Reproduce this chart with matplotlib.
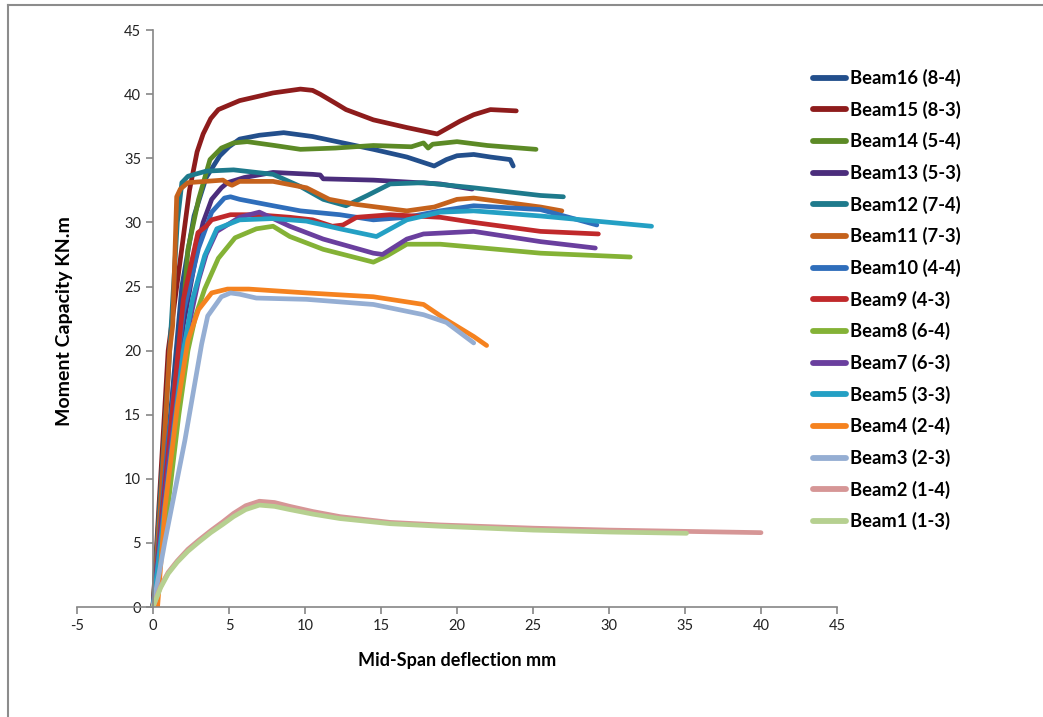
import matplotlib.pyplot as plt
from matplotlib.lines import Line2D

# values (x = deflection mm, y = moment kN.m)
b16_x = [0, 1.0, 1.9, 2.7, 3.5, 4.4, 5.0, 5.7, 7.0, 8.6, 10.5, 12.5, 14.5, 16.7, 18.5, 19.3, 20.0, 21.1, 22.2, 23.5, 23.7]
b16_y = [0, 13, 25, 30.5, 33.5, 35.2, 35.9, 36.5, 36.8, 37.0, 36.7, 36.2, 35.7, 35.1, 34.4, 34.9, 35.2, 35.3, 35.1, 34.9, 34.4]

b15_x = [0, 1.0, 1.9, 2.4, 2.9, 3.3, 3.8, 4.3, 5.7, 7.9, 9.7, 10.5, 11.0, 12.0, 12.7, 14.5, 16.7, 18.7, 19.3, 20.2, 21.1, 22.2, 23.9]
b15_y = [0, 20, 28, 32.5, 35.5, 36.9, 38.1, 38.8, 39.5, 40.1, 40.4, 40.3, 40.0, 39.3, 38.8, 38.0, 37.4, 36.9, 37.3, 37.9, 38.4, 38.8, 38.7]

b14_x = [0, 1.0, 1.8, 2.3, 3.0, 3.75, 4.5, 5.3, 6.2, 8.0, 9.7, 12.0, 14.5, 17.0, 17.8, 18.1, 18.4, 20.0, 22.0, 25.2]
b14_y = [0, 10, 20, 27.9, 31.8, 34.9, 35.8, 36.2, 36.3, 36.0, 35.7, 35.8, 36.0, 35.9, 36.2, 35.8, 36.1, 36.3, 36.0, 35.7]

b13_x = [0, 1.0, 2.0, 3.0, 3.3, 3.86, 4.5, 4.9, 6.0, 7.9, 10.5, 11.0, 11.2, 14.5, 16.0, 18.9, 21.0]
b13_y = [0, 12, 22, 28.5, 30.0, 31.8, 32.7, 33.1, 33.5, 33.9, 33.75, 33.7, 33.4, 33.3, 33.2, 33.0, 32.6]

b12_x = [0, 1.0, 1.6, 1.9, 2.3, 3.5, 5.3, 7.9, 9.7, 11.2, 12.7, 14.1, 15.6, 17.8, 21.1, 25.5, 27.0]
b12_y = [0, 18, 30, 33.1, 33.6, 34.0, 34.1, 33.75, 32.8, 31.8, 31.3, 32.1, 33.0, 33.1, 32.7, 32.1, 32.0]

b11_x = [0, 0.5, 1.1, 1.3, 1.56, 1.8, 2.3, 4.6, 5.0, 5.2, 5.7, 7.9, 10.1, 11.6, 13.4, 16.7, 18.5, 20.0, 21.1, 25.5, 26.9]
b11_y = [0, 8, 20, 22, 32.0, 32.6, 33.1, 33.3, 33.0, 32.9, 33.2, 33.2, 32.7, 31.8, 31.4, 30.9, 31.2, 31.8, 31.9, 31.2, 30.9]

b10_x = [0, 1.0, 2.0, 3.0, 3.86, 4.7, 5.1, 5.7, 7.9, 9.7, 12.3, 14.5, 16.7, 18.9, 21.1, 25.5, 29.2]
b10_y = [0, 13, 23, 28, 30.8, 31.9, 32.0, 31.8, 31.3, 30.9, 30.6, 30.2, 30.4, 30.9, 31.3, 31.0, 29.8]

b9_x = [0, 1.0, 2.0, 2.96, 3.5, 3.86, 5.1, 6.8, 9.0, 10.5, 11.8, 12.5, 13.4, 15.6, 18.9, 21.1, 25.5, 29.3]
b9_y = [0, 12, 24, 29.2, 29.7, 30.2, 30.6, 30.6, 30.4, 30.2, 29.7, 29.8, 30.4, 30.6, 30.4, 30.0, 29.3, 29.1]

b8_x = [0, 1.0, 1.7, 2.3, 2.8, 3.4, 4.3, 5.4, 6.8, 7.9, 9.0, 11.2, 14.5, 15.4, 16.7, 18.9, 25.5, 31.4]
b8_y = [0, 8, 15, 20, 22.7, 24.8, 27.2, 28.8, 29.5, 29.7, 28.9, 27.9, 26.9, 27.4, 28.3, 28.3, 27.6, 27.3]

b7_x = [0, 1.0, 2.0, 3.0, 3.5, 4.2, 5.7, 7.0, 9.0, 11.2, 14.5, 15.1, 16.7, 17.8, 21.1, 25.5, 29.1]
b7_y = [0, 11, 20, 25.5, 27.5, 29.3, 30.4, 30.8, 29.7, 28.7, 27.6, 27.5, 28.7, 29.1, 29.3, 28.5, 28.0]

b5_x = [0, 1.0, 2.0, 2.6, 3.4, 4.2, 5.7, 7.9, 10.1, 12.3, 14.7, 16.7, 18.9, 21.1, 25.5, 32.8]
b5_y = [0, 10, 20, 24, 27.4, 29.5, 30.2, 30.3, 30.1, 29.5, 28.9, 30.2, 30.8, 30.9, 30.5, 29.7]

b4_x = [0.3, 0.8, 1.6, 2.3, 3.0, 3.86, 4.9, 5.7, 6.3, 10.1, 14.5, 17.8, 19.3, 21.1, 21.95]
b4_y = [0, 7.8, 15.6, 20.8, 23.2, 24.5, 24.8, 24.8, 24.8, 24.5, 24.2, 23.6, 22.4, 21.1, 20.4]

b3_x = [0, 0.8, 2.1, 3.2, 3.6, 4.5, 5.1, 5.7, 6.8, 10.1, 14.5, 17.8, 19.3, 21.1]
b3_y = [0, 5.2, 13, 20.5, 22.7, 24.2, 24.5, 24.4, 24.1, 24.0, 23.6, 22.8, 22.2, 20.6]

b2_x = [0, 0.5, 1.0, 1.6, 2.3, 3.0, 3.8, 4.6, 5.3, 6.1, 7.0, 8.0, 9.0, 10.5, 12.3, 15.6, 18.9, 25, 30, 35, 40]
b2_y = [0, 1.6, 2.7, 3.6, 4.5, 5.2, 5.95, 6.65, 7.3, 7.9, 8.25, 8.15, 7.85, 7.45, 7.05, 6.6, 6.4, 6.15, 6.0, 5.9, 5.8]

b1_x = [0, 0.5, 1.0, 1.6, 2.3, 3.0, 3.8, 4.6, 5.3, 6.1, 7.0, 8.0, 9.0, 10.5, 12.3, 15.6, 18.9, 25, 30, 35.1]
b1_y = [0, 1.5, 2.6, 3.5, 4.35, 5.05, 5.8, 6.45, 7.05, 7.6, 7.95, 7.85, 7.6, 7.25, 6.9, 6.5, 6.3, 6.0, 5.85, 5.75]

labels = ['Beam16 (8-4)', 'Beam15 (8-3)', 'Beam14 (5-4)', 'Beam13 (5-3)', 'Beam12 (7-4)',
          'Beam11 (7-3)', 'Beam10 (4-4)', 'Beam9 (4-3)', 'Beam8 (6-4)', 'Beam7 (6-3)',
          'Beam5 (3-3)', 'Beam4 (2-4)', 'Beam3 (2-3)', 'Beam2 (1-4)', 'Beam1 (1-3)']
colors = ['#234F8C', '#8E1C1C', '#5C8A26', '#4B2D7C', '#1E7A8C',
          '#C5621C', '#2F6EBB', '#C0292B', '#84B236', '#6A3F9E',
          '#24A0C4', '#F5821F', '#95AED3', '#D69696', '#B6D090']
xs = [b16_x, b15_x, b14_x, b13_x, b12_x, b11_x, b10_x, b9_x, b8_x, b7_x, b5_x, b4_x, b3_x, b2_x, b1_x]
ys = [b16_y, b15_y, b14_y, b13_y, b12_y, b11_y, b10_y, b9_y, b8_y, b7_y, b5_y, b4_y, b3_y, b2_y, b1_y]

plt.rcParams['font.family'] = ['Lato', 'DejaVu Sans']
plt.rcParams['axes.unicode_minus'] = False

fig = plt.figure(figsize=(10.43, 7.17), dpi=100)
ax = fig.add_axes([0.0738, 0.1534, 0.7287, 0.8046])

for x, y, c, lab in zip(xs, ys, colors, labels):
    ax.plot(x, y, color=c, linewidth=3.4, label=lab, solid_capstyle='round', solid_joinstyle='round')

ax.set_xlim(-5, 45)
ax.set_ylim(0, 45)
ax.set_xticks(range(-5, 50, 5))
ax.set_yticks(range(0, 50, 5))

# excel style axes: y axis crosses at x = 0
ax.spines['left'].set_position(('data', 0))
ax.spines['top'].set_visible(False)
ax.spines['right'].set_visible(False)
for s in ['left', 'bottom']:
    ax.spines[s].set_color('#868686')
    ax.spines[s].set_linewidth(1.2)
ax.tick_params(axis='both', direction='out', length=5, width=1.2, color='#868686',
               labelsize=10.5, labelcolor='#222222')

ax.set_xlabel('Mid-Span deflection mm', fontsize=13, fontweight='bold', labelpad=14)
ax.text(-5.8, 22.3, 'Moment Capacity KN.m', rotation=90, ha='center', va='center',
        fontsize=14, fontweight='bold')

fig.legend(loc='upper left', bbox_to_anchor=(0.764, 0.927), frameon=False,
           labelspacing=0.74, handlelength=1.8, handletextpad=0.22,
           prop={'weight': 'bold', 'size': 13.2})
for line in fig.legends[0].get_lines():
    line.set_linewidth(4.2)

# chart frame (top and left edges visible in the reference)
fig.add_artist(Line2D([8 / 1043, 1], [1 - 5 / 717, 1 - 5 / 717], color='#8c8c8c', lw=1.5))
fig.add_artist(Line2D([8 / 1043, 8 / 1043], [0, 1 - 5 / 717], color='#8c8c8c', lw=1.5))

plt.savefig('out.png', dpi=100)
